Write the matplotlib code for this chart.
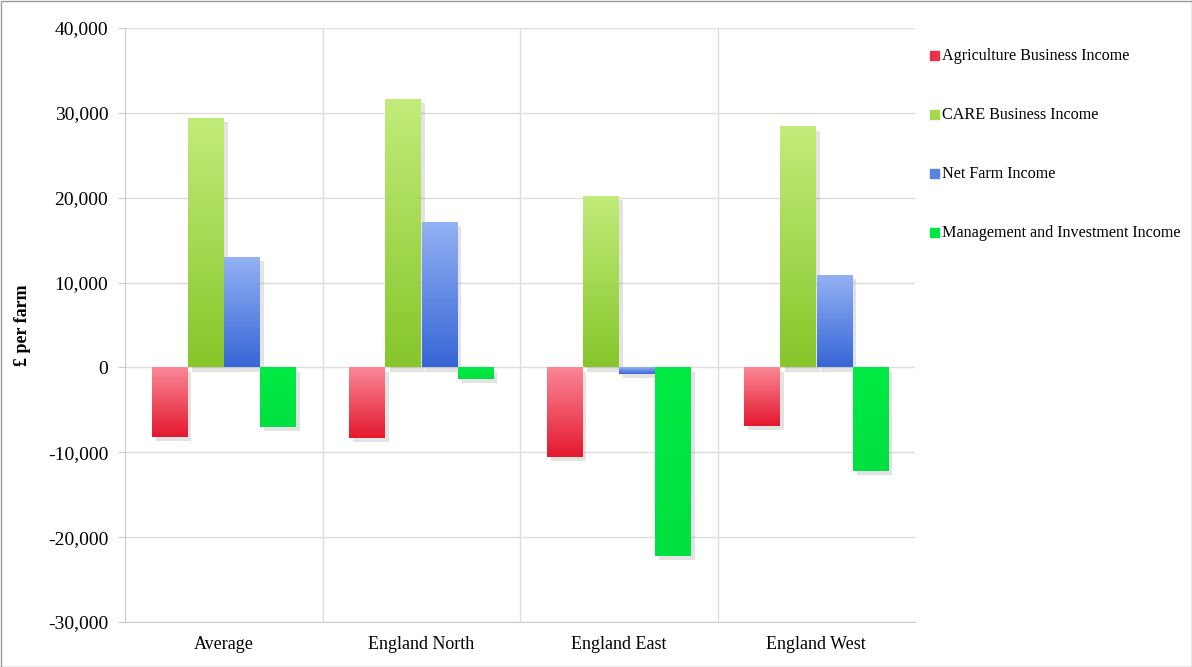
import numpy as np
import matplotlib.pyplot as plt
from matplotlib.colors import LinearSegmentedColormap
from matplotlib import patheffects as pe

plt.rcParams['font.family'] = ['Liberation Serif', 'DejaVu Serif']

regions = ['Average', 'England North', 'England East', 'England West']
series = ['Agriculture Business Income', 'CARE Business Income',
          'Net Farm Income', 'Management and Investment Income']
agri = [-8200, -8300, -10500, -6900]
care = [29400, 31600, 20200, 28400]
nfi = [13000, 17100, -800, 10900]
mii = [-7000, -1400, -22200, -12200]
values = [agri, care, nfi, mii]

# (top colour, bottom colour) for each series gradient
grads = [('#fa8796', '#e4192f'), ('#c2ec7a', '#86c62a'),
         ('#93b2f4', '#3766d6'), ('#00ea44', '#00e040')]
solid = ['#e8334a', '#a6d84c', '#5a82e2', '#00e642']

fig = plt.figure(figsize=(11.92, 6.67), dpi=100)
ax = fig.add_axes([125/1192, 45/667, 790/1192, 594/667])

w = 0.183
x = np.arange(len(regions))
ymin, ymax = -30000, 40000
for i, vals in enumerate(values):
    cmap = LinearSegmentedColormap.from_list('g%d' % i, [grads[i][1], grads[i][0]])
    for j, v in enumerate(vals):
        xc = x[j] + (i - 1.5) * w
        b = ax.bar(xc, v, w * 0.98, color=solid[i], zorder=3,
                   path_effects=[pe.SimplePatchShadow(offset=(3, -3), alpha=0.18, shadow_rgbFace='#666666'),
                                 pe.Normal()])[0]
        top, bot = max(v, 0), min(v, 0)
        g = np.linspace(0, 1, 100).reshape(-1, 1)
        im = ax.imshow(g, cmap=cmap, extent=[xc - w * 0.49, xc + w * 0.49, bot, top],
                       origin='lower', aspect='auto', zorder=4)
        im.set_clip_path(b)

ax.set_xlim(-0.5, 3.5)
ax.set_ylim(ymin, ymax)
ax.set_yticks(np.arange(-30000, 40001, 10000))
ax.set_yticklabels(['{:,}'.format(t) for t in range(-30000, 40001, 10000)], fontsize=14)
ax.set_xticks(x)
ax.set_xticklabels(regions, fontsize=13)
ax.tick_params(axis='x', length=0, pad=10)
ax.tick_params(axis='y', length=5, color='#cccccc', pad=7)
ax.set_ylabel('£ per farm', fontsize=13, fontweight='bold', labelpad=12)

ax.grid(axis='y', color='#dddddd', lw=1, zorder=0)
for b in [0.5, 1.5, 2.5]:
    ax.axvline(b, color='#dddddd', lw=1, zorder=0)
for s in ['top', 'right']:
    ax.spines[s].set_visible(False)
for s in ['left', 'bottom']:
    ax.spines[s].set_color('#cccccc')

# legend on the right
for i, name in enumerate(series):
    yy = 1 - (56 + 59 * i) / 667
    fig.patches.append(plt.Rectangle((930/1192, yy - 4/667), 9/1192, 9/667,
                                     transform=fig.transFigure, color=solid[i], figure=fig))
    fig.text(942/1192, yy, name, fontsize=11.6, va='center', ha='left')

fig.patches.append(plt.Rectangle((0.5/1192, 0.5/667), 1 - 1/1192, 1 - 1/667, transform=fig.transFigure,
                                 fill=False, edgecolor='#999999', lw=1, figure=fig))

fig.savefig('out.png', dpi=100)
